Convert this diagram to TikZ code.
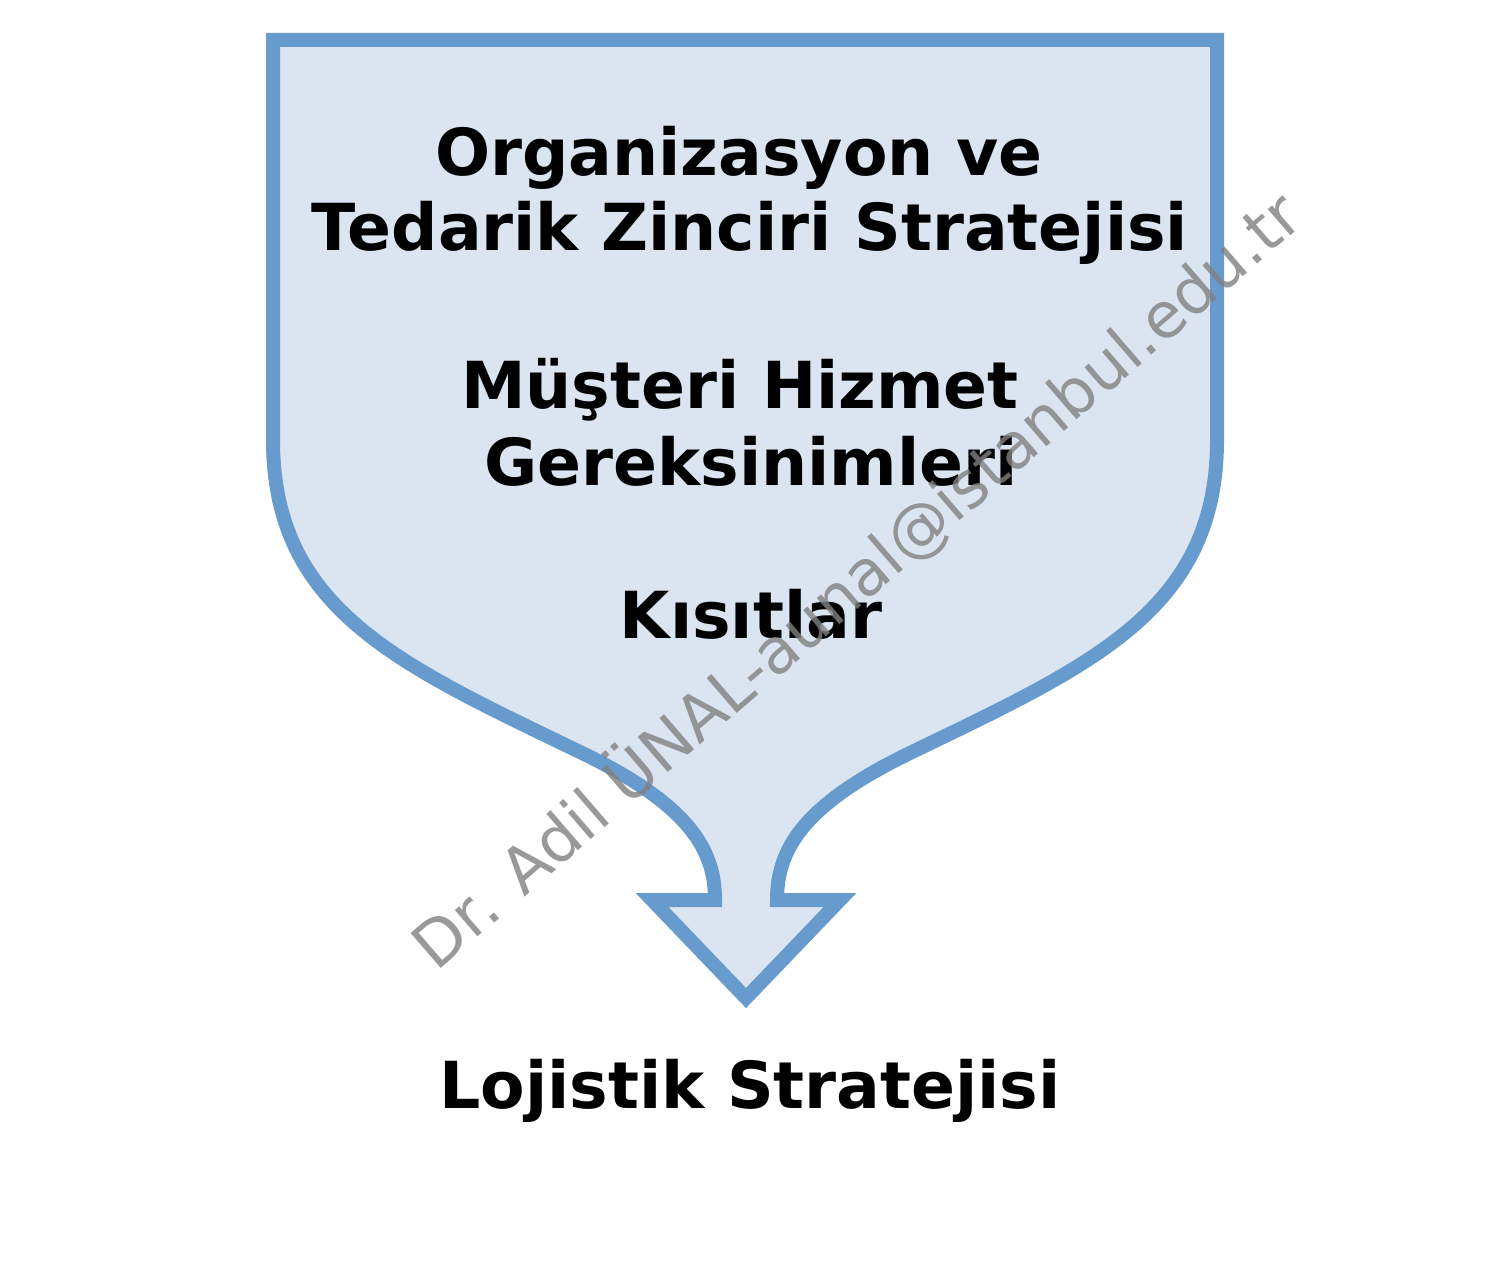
\documentclass[tikz,border=0pt]{standalone}
\usepackage{fontspec}
\setmainfont{DejaVu Sans}
\definecolor{funfill}{RGB}{219,229,242}
\definecolor{funline}{RGB}{104,155,205}
\definecolor{wmark}{RGB}{128,128,128}
\begin{document}
\begin{tikzpicture}[x=0.02cm,y=-0.02cm,
  lbl/.style={font=\fontsize{36.9}{42}\selectfont\bfseries, anchor=base, inner sep=0pt},
  funnel/.style={fill=funfill, draw=funline, line width=0.28cm, line join=miter, miter limit=10}]
\useasboundingbox (0,0) rectangle (1500,1284);
\draw[funnel] (273,40) -- (273,440)
  .. controls (273,610) and (400,665) .. (580,752)
  .. controls (690,805) and (715,850) .. (715,900)
  -- (652,900) -- (746,998) -- (840,900) -- (777,900)
  .. controls (777,850) and (802,805) .. (912,752)
  .. controls (1092,665) and (1217,610) .. (1217,440)
  -- (1217,40) -- cycle;
\node[lbl] (t1) at (739,175) {Organizasyon ve};
\node[lbl] (t2) at (750,250) {Tedarik Zinciri Stratejisi};
\node[lbl] (t3) at (740,408) {Müşteri Hizmet};
\node[lbl] (t4) at (751,485) {Gereksinimleri};
\node[lbl] (t5) at (751,638) {Kısıtlar};
\node[lbl] (t6) at (750,1108) {Lojistik Stratejisi};
\node[font=\fontsize{36}{42}\selectfont, text=wmark, opacity=0.8, rotate=40.8, inner sep=0pt] (wm) at (856,580) {Dr. Adil ÜNAL-aunal@istanbul.edu.tr};
\end{tikzpicture}
\end{document}
